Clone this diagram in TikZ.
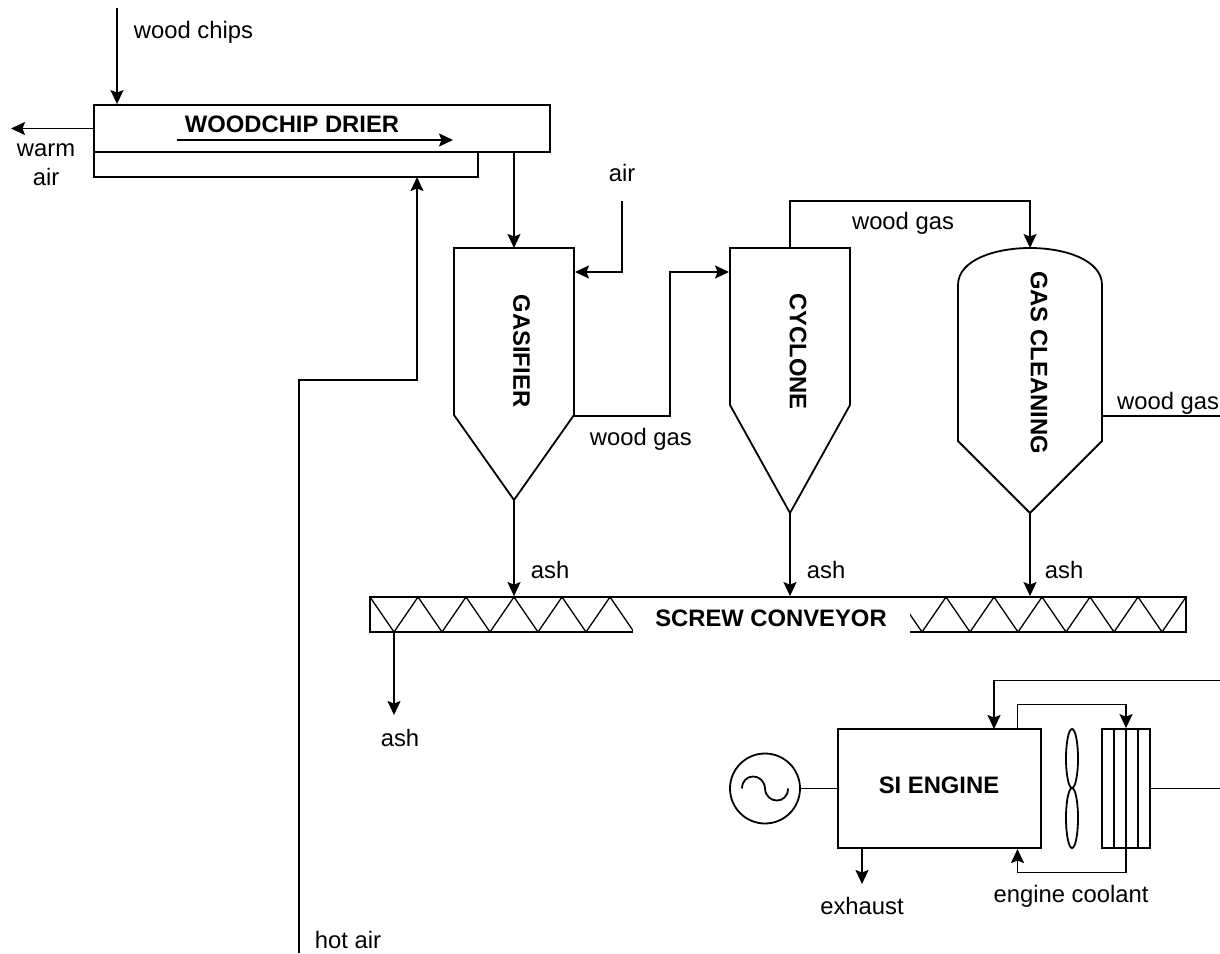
\documentclass[tikz,border=0pt]{standalone}
\usepackage{fontspec}
\setmainfont{Liberation Sans}
\usetikzlibrary{arrows.meta,shapes.geometric}
\tikzset{
    boxnode/.style={draw, rectangle, inner sep=0pt},
    title/.style={font=\fontsize{23.8}{28}\selectfont\bfseries, inner sep=0pt},
    label/.style={font=\fontsize{23.8}{28}\selectfont, inner sep=0pt},
    vessel/.style={draw, line join=miter},
}
\begin{document}
\begin{tikzpicture}[x=1pt, y=-1pt, >={Stealth[length=14pt,width=13pt,inset=2.5pt]}, line width=1.8pt]
    \useasboundingbox (0,0) rectangle (1220,953);

    % Drier
    \node[boxnode, minimum width=384pt, minimum height=25pt] (drierlow) at (286,164.5) {};
    \node[boxnode, minimum width=456pt, minimum height=47pt] (drier) at (322,128.5) {};
    \node[title] (driertext) at (292,124) {WOODCHIP DRIER};
    \coordinate (flowa) at (177,140);
    \coordinate (flowb) at (453,140);
    \draw[->] (flowa) -- (flowb);
    \coordinate (chipsin) at (117,8);
    \draw[->] (chipsin) -- (chipsin |- drier.north);
    \node[label, anchor=west] (chipstext) at (133,32) {wood chips};
    \coordinate (warmout) at (11,128.5);
    \draw[->] (drier.west) -- (warmout);
    \node[label, align=center] (warmtext) at (46,165) {warm\\[1pt]air};

    % Vessels
    \coordinate (gasa) at (454,248);
    \coordinate (gasb) at (574,248);
    \coordinate (gasc) at (574,415);
    \coordinate (gasbot) at (514,500);
    \coordinate (gasd) at (454,415);
    \draw[vessel] (gasa) -- (gasb) -- (gasc) -- (gasbot) -- (gasd) -- cycle;
    \node[title, rotate=-90] (gastext) at (521.5,351) {GASIFIER};

    \coordinate (cyca) at (730,248);
    \coordinate (cycb) at (850,248);
    \coordinate (cycc) at (850,405);
    \coordinate (cycbot) at (790,513);
    \coordinate (cycd) at (730,405);
    \draw[vessel] (cyca) -- (cycb) -- (cycc) -- (cycbot) -- (cycd) -- cycle;
    \node[title, rotate=-90] (cyctext) at (798,351.5) {CYCLONE};

    \coordinate (cleantop) at (1030,248);
    \coordinate (cleanbot) at (1030,513);
    \draw[vessel] (958,285) .. controls (958,260) and (995,248) .. (cleantop)
        .. controls (1065,248) and (1102,260) .. (1102,285)
        -- (1102,441) -- (cleanbot) -- (958,441) -- cycle;
    \node[title, rotate=-90] (cleantext) at (1039,362.5) {GAS CLEANING};

    % Gas lines
    \coordinate (drierout) at (514,152);
    \coordinate (gasin) at (514,248);
    \draw[->] (drierout) -- (gasin);
    \coordinate (airin) at (622,201);
    \coordinate (airport) at (575,272);
    \draw[->] (airin) |- (airport);
    \node[label] (airtext) at (622,173) {air};
    \coordinate (gasout) at (574,416);
    \coordinate (cycin) at (729,272);
    \draw[->] (gasout) -| (670,272) -- (cycin);
    \node[label, anchor=west] (gasouttext) at (589,439) {wood gas};
    \coordinate (cycout) at (790,248);
    \draw[->] (cycout) |- (910,201) -| (cleantop);
    \node[label] (cycouttext) at (903,223) {wood gas};
    \coordinate (cleanout) at (1102,416);
    \coordinate (cleanend) at (1220,416);
    \draw (cleanout) -- (cleanend);
    \node[label, anchor=east] (cleanouttext) at (1220,403) {wood gas};

    % Screw conveyor
    \node[boxnode, minimum width=816pt, minimum height=35pt] (screw) at (778,614.5) {};
    \foreach \i in {0,...,33} {
        \pgfmathsetmacro{\xa}{370+24*\i}
        \pgfmathsetmacro{\xb}{\xa+24}
        \pgfmathparse{int(mod(\i,2))}
        \ifnum\pgfmathresult=0
            \draw[line width=1.3pt] (\xa,597) -- (\xb,632);
        \else
            \draw[line width=1.3pt] (\xa,632) -- (\xb,597);
        \fi
    }
    \node[fill=white, minimum width=277pt, minimum height=37pt, inner sep=0pt] (screwgap) at (771.5,616) {};
    \node[title] (screwtext) at (771,618) {SCREW CONVEYOR};

    % Ash
    \draw[->] (gasbot) -- (gasbot |- screw.north);
    \draw[->] (cycbot) -- (cycbot |- screw.north);
    \draw[->] (cleanbot) -- (cleanbot |- screw.north);
    \node[label, anchor=west] (ashtexta) at (530,570) {ash};
    \node[label, anchor=west] (ashtextb) at (806,570) {ash};
    \node[label, anchor=west] (ashtextc) at (1044,570) {ash};
    \coordinate (ashout) at (394,715);
    \draw[->] (ashout |- screw.south) -- (ashout);
    \node[label] (ashtextd) at (400,738) {ash};

    % Hot air
    \coordinate (hotin) at (299,953);
    \coordinate (hotport) at (417,177);
    \draw[->] (hotin) |- (350,380) -| (hotport);
    \node[label, anchor=west] (hottext) at (314,940) {hot air};

    % Engine
    \node[boxnode, minimum width=203pt, minimum height=119pt] (engine) at (939.5,788.5) {};
    \node[title] (enginetext) at (939,785) {SI ENGINE};
    \node[draw, circle, inner sep=0pt, minimum size=70pt] (gen) at (765,788.5) {};
    \draw (gen.east) -- (engine.west);
    \draw[shift={(gen.center)}] (-23,0) .. controls (-23,-16) and (-1,-16) .. (0,0)
        .. controls (1,16) and (23,16) .. (23,0);
    \node[draw, ellipse, inner sep=0pt, minimum width=12pt, minimum height=59pt] (fana) at (1072,758.5) {};
    \node[draw, ellipse, inner sep=0pt, minimum width=12pt, minimum height=60pt] (fanb) at (1072,818) {};
    \node[boxnode, minimum width=48pt, minimum height=119pt] (rad) at (1126,788.5) {};
    \draw (1114,729) -- (1114,848);
    \draw (1138,729) -- (1138,848);
    \coordinate (coolend) at (1220,788.5);
    \draw (rad.east) -- (coolend);
    \coordinate (exhaust) at (862,884);
    \draw[->] (exhaust |- engine.south) -- (exhaust);
    \node[label] (exhausttext) at (862,906) {exhaust};
    \coordinate (returnin) at (1220,680.5);
    \coordinate (returnport) at (994,729);
    \draw[->] (returnin) -| (returnport);
    \coordinate (hosea) at (1017.5,729);
    \draw[->] (hosea) |- (1080,704.5) -| (rad.north);
    \coordinate (hoseb) at (1017.5,849);
    \draw[->] (rad.north) -- (rad.south) |- (1080,872.5) -| (hoseb);
    \node[label] (cooltext) at (1071,896) {engine coolant};
\end{tikzpicture}
\end{document}
